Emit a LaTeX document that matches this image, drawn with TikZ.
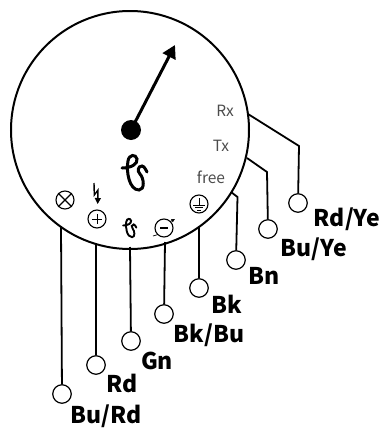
\documentclass[tikz,border=0pt]{standalone}
\usepackage{fontspec}
\setmainfont{Noto Sans CJK JP}
\usepackage{tikz}
\usetikzlibrary{arrows.meta, calc}

\tikzset{
    wire/.style={line width=1.8pt},
    pin/.style={draw,circle,fill=white,line width=1.2pt,minimum size=18.5pt,inner sep=0pt},
    wirelabel/.style={font=\fontsize{23}{23}\selectfont\bfseries,inner sep=0pt},
    portlabel/.style={font=\fontsize{15.5}{15.5}\selectfont,text=black!70,inner sep=0pt},
    iconring/.style={draw,circle,line width=1.1pt,minimum size=18pt,inner sep=0pt},
}

% the curly sensor sign, drawn around its own origin
\newcommand{\sensorsign}[4]{%
    \begin{scope}[shift={(#1,#2)},scale=#3]
        \draw[line width=#4,line cap=round] (-13,0) .. controls (-4,0) and (3,-4) .. (2,-9)
            .. controls (1,-14) and (-6,-14) .. (-7,-7)
            .. controls (-9,3) and (-6,22) .. (4,22)
            .. controls (10,22) and (9,10) .. (5,6)
            .. controls (2,3) and (3,-2) .. (7,-2)
            .. controls (9,-2) and (11,2) .. (12,4);
    \end{scope}}

\begin{document}
\begin{tikzpicture}[x=1pt,y=-1pt]
    \useasboundingbox (0,0) rectangle (380,429);

    % Housing
    \node[draw,circle,line width=2pt,minimum size=238pt,inner sep=0pt] (body) at (130,130) {};

    % Needle
    \node[circle,fill=black,minimum size=20pt,inner sep=0pt] (hub) at (131,130) {};
    \coordinate (tip) at (175,45);
    \draw[line width=3pt,-{Triangle[length=13pt,width=14pt]}] (hub.center) -- (tip);
    \sensorsign{135}{168}{1}{3pt}

    % Wires and pins
    \node[pin] (rdye) at (298,203) {};
    \node[pin] (buye) at (268,229) {};
    \node[pin] (bn) at (236,260) {};
    \node[pin] (bk) at (199,288) {};
    \node[pin] (bkbu) at (164,314) {};
    \node[pin] (gn) at (131,341) {};
    \node[pin] (rd) at (96,365) {};
    \node[pin] (burd) at (62,394) {};

    \coordinate (a) at (248,114);
    \coordinate (b) at (247,158);
    \coordinate (c) at (231,192);
    \coordinate (d) at (199,226);
    \coordinate (e) at (165,242);
    \coordinate (f) at (130,247);
    \coordinate (g) at (96,243);
    \coordinate (h) at (61,227);

    \draw[wire] (a) -- (299,146) -- (rdye);
    \draw[wire] (b) -- (267,172) -- (buye);
    \draw[wire] (c) -- (237.5,197) -- (bn);
    \draw[wire] (d) -- (bk);
    \draw[wire] (e) -- (bkbu);
    \draw[wire] (f) -- (gn);
    \draw[wire] (g) -- (rd);
    \draw[wire] (h) -- (burd);

    % Wire colours
    \node[wirelabel] (lrdye) at (347,219) {Rd/Ye};
    \node[wirelabel] (lbuye) at (314,249) {Bu/Ye};
    \node[wirelabel] (lbn) at (264,276) {Bn};
    \node[wirelabel] (lbk) at (227,304) {Bk};
    \node[wirelabel] (lbkbu) at (209,335) {Bk/Bu};
    \node[wirelabel] (lgn) at (157,361) {Gn};
    \node[wirelabel] (lrd) at (122,383) {Rd};
    \node[wirelabel] (lburd) at (106,416) {Bu/Rd};

    % Port names
    \node[portlabel] (rx) at (225,111) {Rx};
    \node[portlabel] (tx) at (221,146) {Tx};
    \node[portlabel] (free) at (211,177) {free};

    % Cross
    \node[iconring] (cross) at (65,200) {};
    \draw[line width=1.1pt] (cross.north west) -- (cross.south east) (cross.north east) -- (cross.south west);

    % Plus with lightning
    \node[iconring] (plus) at (97,219) {};
    \draw[line width=1pt] ($(plus)+(-5,0)$) -- ($(plus)+(5,0)$) ($(plus)+(0,-5)$) -- ($(plus)+(0,5)$);
    \coordinate (boltend) at (97.7,204);
    \draw[line width=1.4pt,-{Triangle[length=6pt,width=6pt]}] (94,183) -- (94.3,195) -- (98,190) -- (boltend);

    % Small sign
    \sensorsign{130}{225.5}{0.53}{1.9pt}

    % Minus with arrow
    \node[iconring] (minus) at (164,228) {};
    \draw[line width=1.6pt] ($(minus)+(-4,0)$) -- ($(minus)+(4,0)$);
    \coordinate (arrowfrom) at (153,236);
    \coordinate (arrowto) at (175,219);
    \draw[line width=0.7pt] (arrowfrom) -- (minus.south west);
    \draw[line width=0.7pt,-{Triangle[length=3.5pt,width=3.5pt]}] (minus.north east) -- (arrowto);

    % Earth
    \node[iconring] (earth) at (199,204) {};
    \draw[line width=0.9pt] ($(earth)+(0,-6)$) -- ($(earth)+(0,1)$)
        ($(earth)+(-6,1)$) -- ($(earth)+(6,1)$)
        ($(earth)+(-4,3.5)$) -- ($(earth)+(4,3.5)$)
        ($(earth)+(-2,6)$) -- ($(earth)+(2,6)$);
\end{tikzpicture}
\end{document}
